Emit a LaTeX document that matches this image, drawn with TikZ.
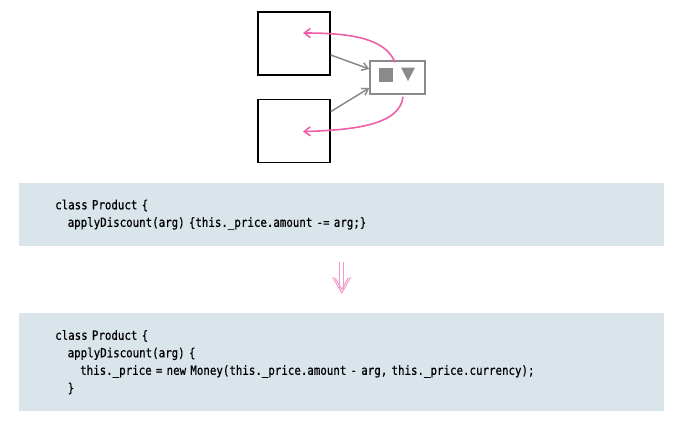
\documentclass[tikz,border=0pt]{standalone}
\usepackage{fontspec}
\usepackage{xcolor}
\usetikzlibrary{arrows.meta, positioning}
\newfontfamily\codefont[FakeStretch=0.85, FakeBold=0.6]{DejaVu Sans Mono}
\newcommand\indentstep{\hspace*{12.5bp}}
\definecolor{panel}{HTML}{D9E4EB}
\definecolor{linkpink}{HTML}{EE5FA8}
\definecolor{lightpink}{HTML}{F29BC9}
\definecolor{mixgray}{HTML}{8A8A8A}

\begin{document}
\begin{tikzpicture}[x=1bp, y=-1bp, node distance=23bp, every node/.style={inner sep=0pt}]
\useasboundingbox (0,0) rectangle (678,427);
\node (top) [draw, line width=1.6bp, minimum width=72bp, minimum height=63bp] at (294,43.5) {};
\node (bottom) [below=of top, draw, line width=1.6bp, minimum width=72bp, minimum height=63bp] {};
\node (mixin) [draw=mixgray, line width=1.5bp, minimum width=55bp, minimum height=33bp] at (397.5,77.5) {};
\node (square) [fill=mixgray, minimum size=14bp] at (385.5,74.5) {};
\fill[mixgray] (401,67.5) -- (415,67.5) -- (408,81) -- cycle;
\draw[mixgray, line width=1.5bp, -{Straight Barb[length=6bp, width=8bp]}] ([yshift=-11.5bp]top.east) -- ([yshift=8.5bp]mixin.west);
\draw[mixgray, line width=1.5bp, -{Straight Barb[length=6bp, width=8bp]}] ([yshift=19.5bp]bottom.east) -- ([yshift=-10.5bp]mixin.west);
\draw[linkpink, line width=1.6bp, -{Straight Barb[length=6bp, width=9bp]}] ([xshift=-2.5bp,yshift=-2bp]mixin.north) .. controls (385,38) and (350,33) .. ([xshift=9bp,yshift=10.5bp]top.center);
\draw[linkpink, line width=1.6bp, -{Straight Barb[length=6bp, width=9bp]}] ([xshift=5.5bp,yshift=-2bp]mixin.south) .. controls (400,126) and (350,130) .. ([xshift=9bp,yshift=-0.5bp]bottom.center);

\node (before) [anchor=north west, fill=panel, minimum width=645bp, minimum height=63bp, inner xsep=36bp, text width=573bp, align=left, font=\codefont\fontsize{12.7bp}{17.5bp}\selectfont] at (19,183)
  {class Product \{\\
  \indentstep applyDiscount(arg) \{this.\_price.amount -= arg;\}};
\node (after) [anchor=north west, fill=panel, minimum width=645bp, minimum height=98bp, inner xsep=36bp, text width=573bp, align=left, font=\codefont\fontsize{12.7bp}{17.5bp}\selectfont] at (19,313)
  {class Product \{\\
  \indentstep applyDiscount(arg) \{\\
  \indentstep\indentstep this.\_price = new Money(this.\_price.amount - arg, this.\_price.currency);\\
  \indentstep \}};
% refactoring arrow
\coordinate (tip) at ([yshift=20bp]after.north);
\draw[lightpink, line width=1bp, double, double distance=3.5bp, shorten <=16bp, shorten >=24bp] (before) -- (after);
\draw[lightpink, line width=1bp] ([xshift=-9bp,yshift=16bp]tip) -- (tip) -- ([xshift=9bp,yshift=16bp]tip);
\draw[lightpink, line width=1bp] ([xshift=-6.5bp,yshift=15bp]tip) -- ([yshift=3.5bp]tip) -- ([xshift=6.5bp,yshift=15bp]tip);
\end{tikzpicture}
\end{document}
